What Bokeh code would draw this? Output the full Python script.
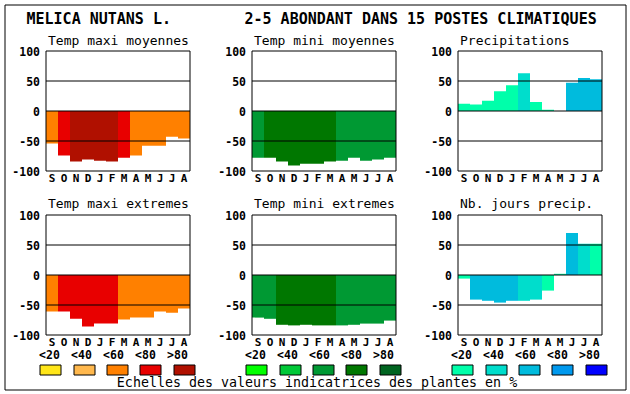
from bokeh.plotting import figure
from bokeh.models import Range1d, ColumnDataSource
from bokeh.embed import file_html
from bokeh.resources import INLINE
from bokeh.core.properties import value

FONT = "DejaVu Sans Mono"

# ---------------- data ----------------
months = ["S", "O", "N", "D", "J", "F", "M", "A", "M", "J", "J", "A"]
y_ticks = [-100, -50, 0, 50, 100]
ref_lines = [-50, 0, 50]
class_labels = ["<20", "<40", "<60", "<80", ">80"]

warm = ["#FFE619", "#FFB84D", "#FF8000", "#E80000", "#B01000"]
greens = ["#00FF00", "#00C837", "#009933", "#007700", "#006420"]
blues = ["#00FFAA", "#00DDCC", "#00BBDD", "#0099EE", "#0000FF"]

title_species = "MELICA NUTANS L."
title_info = "2-5 ABONDANT DANS  15 POSTES CLIMATIQUES"
footer = "Echelles des valeurs indicatrices des plantes en %"

tmax_moy = [-54, -74, -84, -81, -83, -84, -78, -74, -58, -58, -43, -46]
tmax_moy_cls = [2, 3, 4, 4, 4, 4, 3, 2, 2, 2, 2, 2]
tmin_moy = [-78, -78, -84, -91, -88, -88, -84, -83, -78, -83, -81, -78]
tmin_moy_cls = [2, 3, 3, 3, 3, 3, 3, 2, 2, 2, 2, 2]
precip = [12, 11, 17, 33, 43, 63, 15, 2, 0, 47, 55, 53]
precip_cls = [0, 0, 0, 0, 0, 1, 0, 0, 0, 2, 2, 2]
tmax_ext = [-61, -61, -73, -86, -81, -81, -74, -71, -71, -61, -63, -56]
tmax_ext_cls = [2, 3, 3, 3, 3, 3, 2, 2, 2, 2, 2, 2]
tmin_ext = [-71, -73, -83, -84, -83, -84, -84, -84, -83, -81, -81, -76]
tmin_ext_cls = [2, 2, 3, 3, 3, 3, 3, 2, 2, 2, 2, 2]
nb_jours = [-6, -41, -43, -46, -43, -43, -41, -26, 2, 70, 52, 52]
nb_jours_cls = [0, 2, 2, 2, 2, 1, 1, 0, 0, 2, 1, 0]

# ---------------- layout (pixels on the page) ----------------
W, H = 630, 394
FRAME_LEFT = [45.5, 251.5, 457.5]
FRAME_TOP = [50.5, 214.5]
FRAME_W, FRAME_H = 144, 120
PX_PER_MONTH = FRAME_W / len(months)
PX_PER_UNIT = FRAME_H / (y_ticks[-1] - y_ticks[0])
X_LO, X_HI = -0.5, len(months) - 0.5
CLASS_POS = [(3.5 + 32 * k) / PX_PER_MONTH - 0.5 for k in range(5)]

p = figure(width=W, height=H, x_range=Range1d(0, W), y_range=Range1d(H, 0),
           min_border=0, output_backend="svg", toolbar_location=None,
           x_axis_type=None, y_axis_type=None, outline_line_color=None,
           background_fill_color="white", border_fill_color="white")

TXT = dict(text_font=value(FONT), text_color="black")

panels = [
    ("Temp maxi moyennes", tmax_moy, tmax_moy_cls, warm, 0, 0),
    ("Temp mini moyennes", tmin_moy, tmin_moy_cls, greens, 0, 1),
    ("Precipitations", precip, precip_cls, blues, 0, 2),
    ("Temp maxi extremes", tmax_ext, tmax_ext_cls, warm, 1, 0),
    ("Temp mini extremes", tmin_ext, tmin_ext_cls, greens, 1, 1),
    ("Nb. jours precip.", nb_jours, nb_jours_cls, blues, 1, 2),
]

for title, vals, cls, pal, r, j in panels:
    name = f"panel{r}{j}"
    x0 = X_LO - FRAME_LEFT[j] / PX_PER_MONTH
    p.extra_x_ranges[name] = Range1d(x0, x0 + W / PX_PER_MONTH)
    y1 = y_ticks[-1] + FRAME_TOP[r] / PX_PER_UNIT
    p.extra_y_ranges[name] = Range1d(y1 - H / PX_PER_UNIT, y1)
    rn = dict(x_range_name=name, y_range_name=name)

    src = ColumnDataSource(dict(x=list(range(len(months))), top=vals,
                                color=[pal[c] for c in cls]))
    p.vbar(x="x", top="top", bottom=0, width=1, fill_color="color",
           line_color=None, source=src, **rn)
    # reference lines and frame
    p.segment(x0=[X_LO] * len(ref_lines), x1=[X_HI] * len(ref_lines),
              y0=ref_lines, y1=ref_lines, line_color="black", line_width=1, **rn)
    p.quad(left=[X_LO], right=[X_HI], bottom=[y_ticks[0]], top=[y_ticks[-1]],
           fill_color=None, line_color="black", line_width=1, **rn)
    # y tick labels
    p.text(x=[X_LO] * len(y_ticks), y=y_ticks, text=[str(t) for t in y_ticks],
           x_offset=-6, text_align="right", text_baseline="middle",
           text_font_size=value("11.5px"), text_font_style="bold", **TXT, **rn)
    # month labels
    p.text(x=list(range(len(months))), y=[y_ticks[0]] * len(months), text=months,
           y_offset=7, text_align="center", text_baseline="middle",
           text_font_size=value("11px"), text_font_style="bold", **TXT, **rn)
    # panel title
    p.text(x=[X_LO], y=[y_ticks[-1]], text=[title], x_offset=2, y_offset=-11 - r,
           text_align="left", text_baseline="middle",
           text_font_size=value("13px"), text_font_style="normal", **TXT, **rn)
    # class labels under the bottom row
    if r == 1:
        p.text(x=CLASS_POS, y=[y_ticks[0]] * len(CLASS_POS), text=class_labels,
               y_offset=20, text_align="center", text_baseline="middle",
               text_font_size=value("11.5px"), text_font_style="bold", **TXT, **rn)

# header
p.text(x=[26, 244], y=[18, 18], text=[title_species, title_info],
       text_align="left", text_baseline="middle",
       text_font_size=value("15px"), text_font_style="bold", **TXT)

# colour-scale squares
sx, scol = [], []
for fl, pal in zip(FRAME_LEFT, [warm, greens, blues]):
    for k in range(len(class_labels)):
        sx.append(round(fl + 5 + 33.3 * k))
        scol.append(pal[k])
p.rect(x=sx, y=[369.5] * len(sx), width=21, height=10, fill_color=scol,
       line_color="black", line_width=1)

# footer
p.text(x=[316.5], y=[381.5], text=[footer], text_align="center",
       text_baseline="middle", text_font_size=value("13.3px"),
       text_font_style="normal", **TXT)

# outer frame
p.quad(left=[4.5], right=[625.5], top=[4.5], bottom=[389.5],
       fill_color=None, line_color="black", line_width=1)

open("out.html", "w").write(file_html(p, INLINE))
